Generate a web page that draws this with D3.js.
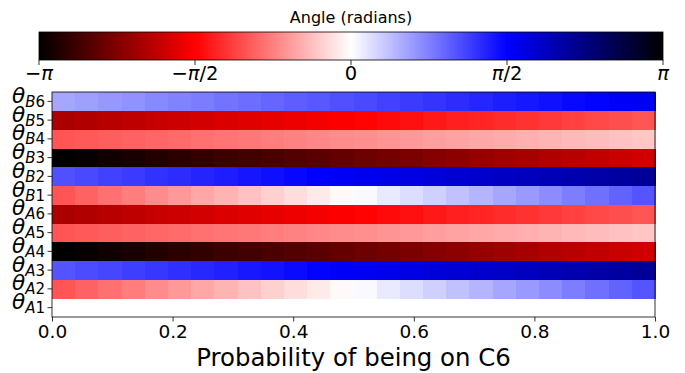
<!DOCTYPE html>
<html>
<head>
<meta charset="utf-8">
<script src="https://cdn.jsdelivr.net/npm/d3@7"></script>
<style>
  html, body { margin: 0; padding: 0; background: #fff; }
  svg { display: block; font-family: "DejaVu Sans", sans-serif; }
</style>
</head>
<body>
<svg id="chart" width="685" height="373"></svg>
<script>
// Probability of being on C6 (column positions)
const probabilities = [0, 0.04, 0.08, 0.12, 0.16, 0.2, 0.24, 0.28, 0.32, 0.36, 0.4, 0.44, 0.48,
  0.52, 0.56, 0.6, 0.64, 0.68, 0.72, 0.76, 0.8, 0.84, 0.88, 0.92, 0.96, 1.0];

// Row labels, bottom to top
const angleNames = ["A1", "A2", "A3", "A4", "A5", "A6", "B1", "B2", "B3", "B4", "B5", "B6"];

// Angle values (radians) per row
const thetaA1 = [0, 0, 0, 0, 0, 0, 0, 0, 0, 0, 0, 0, 0, 0, 0, 0, 0, 0, 0, 0, 0, 0, 0, 0, 0, 0];
const thetaA2 = [-1.05, -0.97, -0.88, -0.80, -0.71, -0.63, -0.55, -0.46, -0.38, -0.29, -0.21, -0.13, -0.04,
  0.04, 0.13, 0.21, 0.29, 0.38, 0.46, 0.55, 0.63, 0.71, 0.80, 0.88, 0.97, 1.05];
const thetaA3 = [1.05, 1.10, 1.14, 1.19, 1.23, 1.28, 1.33, 1.37, 1.42, 1.46, 1.51, 1.56, 1.60,
  1.65, 1.69, 1.74, 1.79, 1.83, 1.88, 1.92, 1.97, 2.02, 2.06, 2.11, 2.15, 2.20];
const thetaA4 = [-3.14, -3.09, -3.04, -2.99, -2.94, -2.88, -2.83, -2.78, -2.73, -2.68, -2.63, -2.58, -2.52,
  -2.47, -2.42, -2.37, -2.32, -2.27, -2.22, -2.16, -2.11, -2.06, -2.01, -1.96, -1.91, -1.86];
const thetaA5 = [-1.05, -1.02, -0.99, -0.97, -0.94, -0.91, -0.88, -0.85, -0.83, -0.80, -0.77, -0.74, -0.71,
  -0.69, -0.66, -0.63, -0.60, -0.57, -0.55, -0.52, -0.49, -0.46, -0.43, -0.41, -0.38, -0.35];
const thetaA6 = [-2.09, -2.05, -2.01, -1.97, -1.92, -1.88, -1.84, -1.80, -1.76, -1.72, -1.67, -1.63, -1.59,
  -1.55, -1.51, -1.47, -1.42, -1.38, -1.34, -1.30, -1.26, -1.22, -1.17, -1.13, -1.09, -1.05];
const thetaB1 = [-1.05, -0.97, -0.88, -0.80, -0.71, -0.63, -0.55, -0.46, -0.38, -0.29, -0.21, -0.13, -0.04,
  0.04, 0.13, 0.21, 0.29, 0.38, 0.46, 0.55, 0.63, 0.71, 0.80, 0.88, 0.97, 1.05];
const thetaB2 = [1.08, 1.12, 1.17, 1.21, 1.26, 1.30, 1.35, 1.39, 1.44, 1.48, 1.53, 1.57, 1.62,
  1.66, 1.71, 1.75, 1.80, 1.84, 1.89, 1.93, 1.98, 2.02, 2.07, 2.11, 2.16, 2.20];
const thetaB3 = [-3.14, -3.09, -3.04, -2.99, -2.94, -2.88, -2.83, -2.78, -2.73, -2.68, -2.63, -2.58, -2.52,
  -2.47, -2.42, -2.37, -2.32, -2.27, -2.22, -2.16, -2.11, -2.06, -2.01, -1.96, -1.91, -1.86];
const thetaB4 = [-1.05, -1.02, -0.99, -0.97, -0.94, -0.91, -0.88, -0.85, -0.83, -0.80, -0.77, -0.74, -0.71,
  -0.69, -0.66, -0.63, -0.60, -0.57, -0.55, -0.52, -0.49, -0.46, -0.43, -0.41, -0.38, -0.35];
const thetaB5 = [-2.09, -2.05, -2.01, -1.97, -1.92, -1.88, -1.84, -1.80, -1.76, -1.72, -1.67, -1.63, -1.59,
  -1.55, -1.51, -1.47, -1.42, -1.38, -1.34, -1.30, -1.26, -1.22, -1.17, -1.13, -1.09, -1.05];
const thetaB6 = [0.55, 0.59, 0.64, 0.68, 0.73, 0.77, 0.81, 0.86, 0.90, 0.95, 0.99, 1.03, 1.08,
  1.12, 1.17, 1.21, 1.25, 1.30, 1.34, 1.39, 1.43, 1.47, 1.52, 1.56, 1.61, 1.65];

const angleRows = [thetaA1, thetaA2, thetaA3, thetaA4, thetaA5, thetaA6,
  thetaB1, thetaB2, thetaB3, thetaB4, thetaB5, thetaB6];

// Tick labels
const xTicks = [0, 0.2, 0.4, 0.6, 0.8, 1.0];
const cbarTicks = [-Math.PI, -Math.PI / 2, 0, Math.PI / 2, Math.PI];
const cbarTickLabels = [["\u2212", "\u03c0", ""], ["\u2212", "\u03c0", "/2"], ["", "0", ""], ["", "\u03c0", "/2"], ["", "\u03c0", ""]];

const svg = d3.select("#chart");

// Cyclic angle colormap: black -> red -> white -> blue -> black
const cmapStops = ["#000000", "#ff0000", "#ffffff", "#0000ff", "#000000"];
const color = d3.scaleLinear()
  .domain([-Math.PI, -Math.PI / 2, 0, Math.PI / 2, Math.PI])
  .range(cmapStops)
  .interpolate(d3.interpolateRgb)
  .clamp(true);

// ---- Colorbar ----
const cb = { x0: 39, x1: 663, y0: 32, y1: 60 };
const cbScale = d3.scaleLinear().domain([-Math.PI, Math.PI]).range([cb.x0, cb.x1]);

const defs = svg.append("defs");
const grad = defs.append("linearGradient").attr("id", "cbar-grad")
  .attr("x1", "0%").attr("x2", "100%").attr("y1", "0%").attr("y2", "0%");
const gradSteps = d3.range(0, 65).map(i => -Math.PI + i * (2 * Math.PI / 64));
grad.selectAll("stop").data(gradSteps).join("stop")
  .attr("offset", d => ((d + Math.PI) / (2 * Math.PI) * 100) + "%")
  .attr("stop-color", d => color(d));

svg.append("rect")
  .attr("x", cb.x0).attr("y", cb.y0)
  .attr("width", cb.x1 - cb.x0).attr("height", cb.y1 - cb.y0)
  .attr("fill", "url(#cbar-grad)")
  .attr("stroke", "#000").attr("stroke-width", 0.8);

svg.append("text")
  .attr("x", (cb.x0 + cb.x1) / 2).attr("y", 22.5)
  .attr("text-anchor", "middle")
  .attr("font-size", 16)
  .text("Angle (radians)");

const cbAxis = svg.append("g");
cbarTicks.forEach((t, i) => {
  const x = cbScale(t);
  cbAxis.append("line")
    .attr("x1", x).attr("x2", x).attr("y1", cb.y1).attr("y2", cb.y1 + 5)
    .attr("stroke", "#000").attr("stroke-width", 0.8);
  const lab = cbarTickLabels[i];
  const txt = cbAxis.append("text")
    .attr("x", x).attr("y", cb.y1 + 20)
    .attr("text-anchor", "middle")
    .attr("font-size", 19.5);
  if (lab[0]) txt.append("tspan").text(lab[0]);
  txt.append("tspan")
    .attr("font-style", lab[1] === "0" ? "normal" : "italic")
    .text(lab[1]);
  if (lab[2]) txt.append("tspan").text(lab[2]);
});

// ---- Heatmap ----
const plot = { x0: 52, x1: 655, y0: 92, y1: 317 };

const xBand = d3.scaleBand()
  .domain(d3.range(probabilities.length))
  .range([plot.x0, plot.x1])
  .padding(0);
const xAxisScale = d3.scaleLinear().domain([0, 1]).range([plot.x0, plot.x1]);
const yBand = d3.scaleBand()
  .domain(angleNames.slice().reverse())
  .range([plot.y0, plot.y1])
  .padding(0);

const cells = [];
angleRows.forEach((row, r) => {
  row.forEach((v, c) => cells.push({ name: angleNames[r], col: c, value: v }));
});

svg.append("g")
  .attr("shape-rendering", "crispEdges")
  .selectAll("rect")
  .data(cells)
  .join("rect")
  .attr("x", d => xBand(d.col))
  .attr("y", d => yBand(d.name))
  .attr("width", xBand.bandwidth() + 0.5)
  .attr("height", yBand.bandwidth() + 0.3)
  .attr("fill", d => color(d.value));

// Frame
svg.append("rect")
  .attr("x", plot.x0).attr("y", plot.y0)
  .attr("width", plot.x1 - plot.x0).attr("height", plot.y1 - plot.y0)
  .attr("fill", "none").attr("stroke", "#000").attr("stroke-width", 0.8);

// X axis
const xAxis = svg.append("g").attr("transform", `translate(0,${plot.y1})`)
  .call(d3.axisBottom(xAxisScale).tickValues(xTicks).tickFormat(d3.format(".1f")).tickSize(4.5).tickPadding(3.5));
xAxis.select(".domain").remove();
xAxis.selectAll("line").attr("stroke-width", 0.8);
xAxis.selectAll("text")
  .attr("font-size", 18.5)
  .attr("font-family", "DejaVu Sans, sans-serif")
  .attr("fill", "#000");

svg.append("text")
  .attr("x", (plot.x0 + plot.x1) / 2).attr("y", 366)
  .attr("text-anchor", "middle")
  .attr("font-size", 24.4)
  .text("Probability of being on C6");

// Y axis with theta labels
const yAxis = svg.append("g");
angleNames.forEach(name => {
  const yc = yBand(name) + yBand.bandwidth() / 2;
  yAxis.append("line")
    .attr("x1", plot.x0 - 4.5).attr("x2", plot.x0)
    .attr("y1", yc).attr("y2", yc)
    .attr("stroke", "#000").attr("stroke-width", 0.8);
  const t = yAxis.append("text")
    .attr("x", plot.x0 - 7).attr("y", yc + 1.5)
    .attr("text-anchor", "end");
  t.append("tspan").attr("font-size", 21.5).attr("font-style", "italic").text("\u03b8");
  const sub = t.append("tspan").attr("font-size", 15).attr("dy", 4);
  sub.append("tspan").attr("font-style", "italic").text(name[0]);
  sub.append("tspan").text(name[1]);
});
</script>
</body>
</html>
